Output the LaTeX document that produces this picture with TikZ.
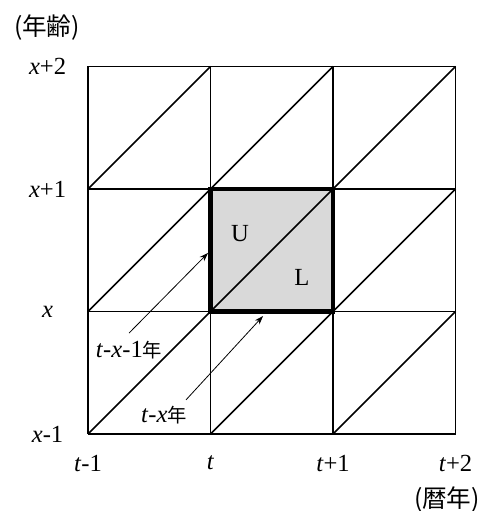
\documentclass[tikz,border=0pt]{standalone}
\usepackage{fontspec}
\setmainfont{Liberation Serif}
\newfontfamily\jpfont{Noto Sans CJK JP}
\newcommand{\nen}{{\jpfont\fontsize{11}{13}\selectfont 年}}
\usetikzlibrary{arrows.meta}

\begin{document}
\begin{tikzpicture}[x=2.45cm, y=2.45cm, >={Stealth[length=5pt, width=3.5pt]},
	every node/.style={font=\fontsize{14}{16}\selectfont},
	gridline/.style={line width=1pt},
	boxline/.style={line width=2.4pt},
	pointer/.style={->, line width=0.45pt}]
	\useasboundingbox (-0.7184,-0.6286) rectangle (3.2898,3.5429);
	
	% 網掛け部分
	\fill[gray!30] (1,1) rectangle (2,2);
	
	% 格子と対角線
	\foreach \i in {0,...,3} {
		\draw[gridline] (\i,0) -- (\i,3);
		\draw[gridline] (0,\i) -- (3,\i);
	}
	\foreach \i in {0,1,2}
		\foreach \j in {0,1,2}
			\draw[gridline] (\i,\j) -- ++(1,1);
	\draw[boxline] (1,1) rectangle (2,2);
	
	% 軸ラベル
	\node (agelab) at (-0.335,3.314) {\jpfont (年齢)};
	\node (yearlab) at (2.93,-0.539) {\jpfont (暦年)};
	\foreach \k/\lab in {0/{\textit{x}-1}, 1/{\textit{x}}, 2/{\textit{x}+1}, 3/{\textit{x}+2}}
		\node (ylab\k) at (-0.33,\k) {\lab};
	\foreach \k/\lab in {0/{\textit{t}-1}, 1/{\textit{t}}, 2/{\textit{t}+1}, 3/{\textit{t}+2}}
		\node (xlab\k) at (\k,-0.237) {\lab};
	
	% U と L
	\node (upper) at (1.24,1.64) {U};
	\node (lower) at (1.747,1.282) {L};
	
	% 出生コーホート
	\node (cohort1) at (0.335,0.686) {\textit{t}-\textit{x}-1\nen};
	\node (cohort2) at (0.62,0.155) {\textit{t}-\textit{x}\nen};
	\coordinate (uend) at (0.98,1.478);
	\coordinate (lend) at (1.429,0.963);
	\draw[pointer] ([yshift=1pt]cohort1.north) -- (uend);
	\draw[pointer] ([xshift=-4pt]cohort2.north east) -- (lend);
\end{tikzpicture}
\end{document}
